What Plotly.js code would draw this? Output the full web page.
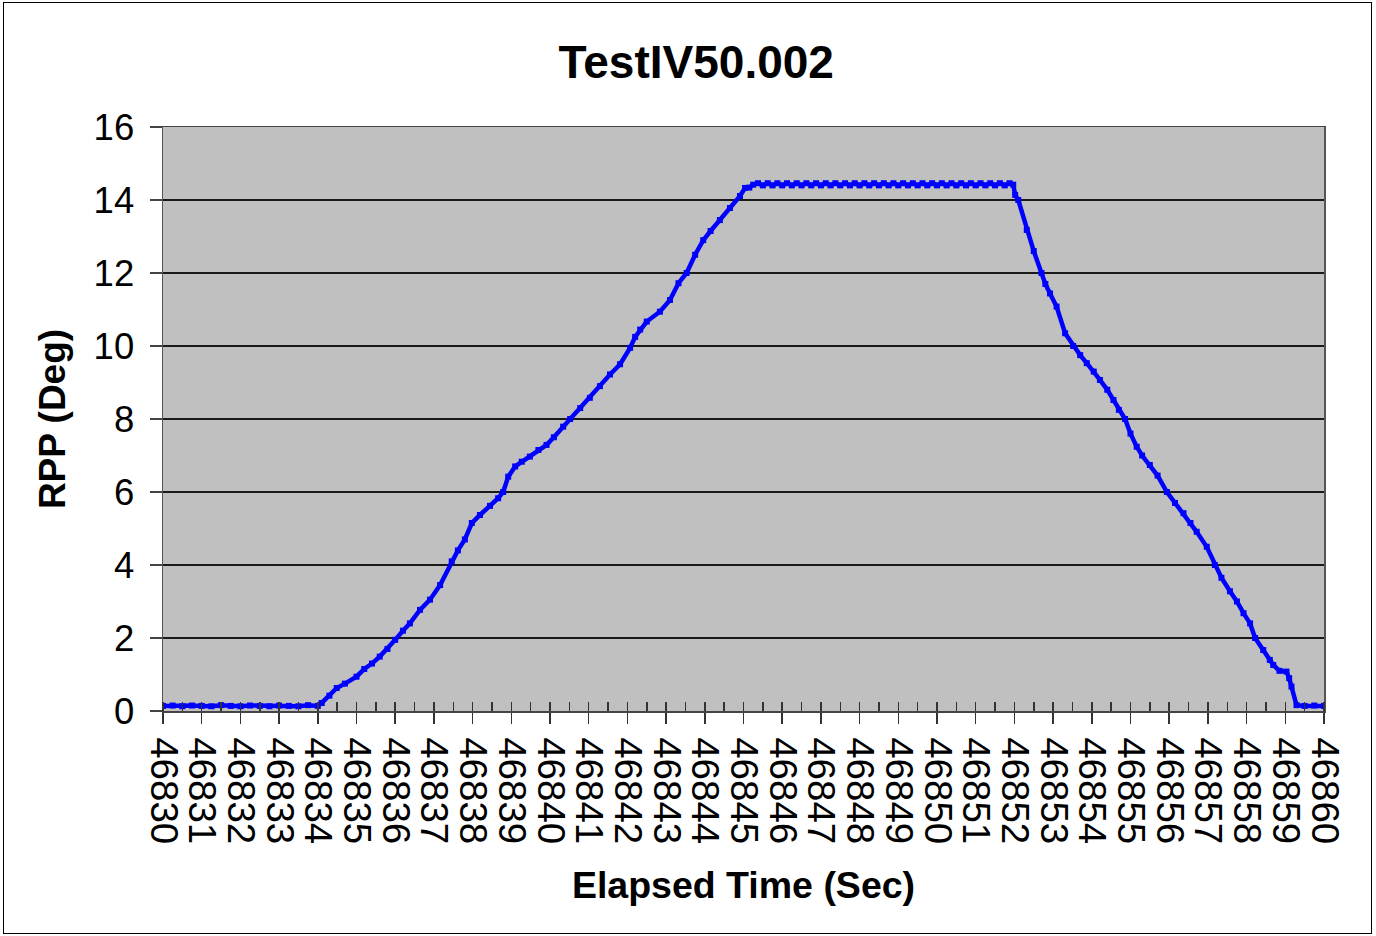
<!DOCTYPE html>
<html>
<head>
<meta charset="utf-8">
<script src="https://cdn.plot.ly/plotly-3.0.1.min.js"></script>
<style>
  html, body { margin: 0; padding: 0; background: #fff; }
  #wrap { position: relative; width: 1376px; height: 936px; }
  #chart { width: 1376px; height: 936px; }
  #frame { position: absolute; left: 3px; top: 2px; width: 1367px; height: 930px;
           border: 1.5px solid #000; pointer-events: none; }
</style>
</head>
<body>
<div id="wrap"><div id="chart"></div><div id="frame"></div></div>
<script>
const chartTitle = "TestIV50.002";
const xTitle = "Elapsed Time (Sec)";
const yTitle = "RPP (Deg)";

const timeBase = [
  46830.00, 46830.25, 46830.50, 46830.75, 46831.00, 46831.25, 46831.50, 46831.75,
  46832.00, 46832.25, 46832.50, 46832.75, 46833.00, 46833.25, 46833.50, 46833.75,
  46834.00
];
const rppBase = [
  0.14, 0.15, 0.13, 0.15, 0.14, 0.13, 0.16, 0.14,
  0.13, 0.15, 0.14, 0.13, 0.15, 0.14, 0.13, 0.16,
  0.14
];

const timeRise = [
  46834.10, 46834.30, 46834.49, 46834.70, 46835.00, 46835.20, 46835.40, 46835.60,
  46835.80, 46836.00, 46836.20, 46836.38, 46836.64, 46836.90, 46837.16, 46837.46,
  46837.62, 46837.80, 46837.98, 46838.19, 46838.45, 46838.66, 46838.79, 46838.92,
  46839.10, 46839.27, 46839.48, 46839.70, 46839.91, 46840.10, 46840.34, 46840.52,
  46840.78, 46841.03, 46841.29, 46841.55, 46841.81, 46842.07, 46842.20, 46842.33,
  46842.50, 46842.84, 46843.10, 46843.32, 46843.53, 46843.75, 46843.96, 46844.15,
  46844.39, 46844.65, 46844.91, 46845.04, 46845.15, 46845.25
];
const rppRise = [
  0.22, 0.42, 0.63, 0.75, 0.94, 1.15, 1.30, 1.49,
  1.70, 1.95, 2.20, 2.40, 2.77, 3.05, 3.45, 4.10,
  4.40, 4.70, 5.15, 5.37, 5.62, 5.83, 6.00, 6.42,
  6.70, 6.83, 6.97, 7.15, 7.29, 7.50, 7.79, 8.00,
  8.30, 8.58, 8.90, 9.22, 9.50, 9.95, 10.25, 10.45,
  10.67, 10.94, 11.26, 11.72, 12.00, 12.50, 12.90, 13.15,
  13.45, 13.78, 14.11, 14.33, 14.34, 14.42
];

const timeTop = [
  46845.375, 46845.500, 46845.625, 46845.750, 46845.875, 46846.000, 46846.125, 46846.250,
  46846.375, 46846.500, 46846.625, 46846.750, 46846.875, 46847.000, 46847.125, 46847.250,
  46847.375, 46847.500, 46847.625, 46847.750, 46847.875, 46848.000, 46848.125, 46848.250,
  46848.375, 46848.500, 46848.625, 46848.750, 46848.875, 46849.000, 46849.125, 46849.250,
  46849.375, 46849.500, 46849.625, 46849.750, 46849.875, 46850.000, 46850.125, 46850.250,
  46850.375, 46850.500, 46850.625, 46850.750, 46850.875, 46851.000, 46851.125, 46851.250,
  46851.375, 46851.500, 46851.625, 46851.750, 46851.875, 46851.970
];
const rppTop = [
  14.46, 14.40, 14.46, 14.40, 14.46, 14.40, 14.46, 14.40,
  14.46, 14.40, 14.46, 14.40, 14.46, 14.40, 14.46, 14.40,
  14.46, 14.40, 14.46, 14.40, 14.46, 14.40, 14.46, 14.40,
  14.46, 14.40, 14.46, 14.40, 14.46, 14.40, 14.46, 14.40,
  14.46, 14.40, 14.46, 14.40, 14.46, 14.40, 14.46, 14.40,
  14.46, 14.40, 14.46, 14.40, 14.46, 14.40, 14.46, 14.40,
  14.46, 14.40, 14.46, 14.40, 14.46, 14.42
];

const timeFall = [
  46852.02, 46852.10, 46852.32, 46852.50, 46852.70, 46852.80, 46852.92, 46853.09,
  46853.31, 46853.52, 46853.70, 46853.87, 46854.05, 46854.21, 46854.40, 46854.56,
  46854.70, 46854.86, 46855.00, 46855.16, 46855.30, 46855.50, 46855.70, 46855.94,
  46856.15, 46856.37, 46856.55, 46856.71, 46856.97, 46857.18, 46857.35, 46857.57,
  46857.75, 46857.92, 46858.09, 46858.22, 46858.43, 46858.60, 46858.69, 46858.85,
  46859.03, 46859.10, 46859.16, 46859.29, 46859.50, 46859.75, 46860.00
];
const rppFall = [
  14.14, 14.00, 13.18, 12.60, 12.00, 11.70, 11.44, 11.08,
  10.35, 10.00, 9.75, 9.53, 9.30, 9.07, 8.80, 8.52,
  8.25, 8.00, 7.60, 7.24, 7.00, 6.74, 6.45, 6.00,
  5.70, 5.42, 5.15, 4.91, 4.50, 4.00, 3.65, 3.28,
  3.00, 2.68, 2.40, 2.00, 1.67, 1.40, 1.26, 1.10,
  1.08, 0.90, 0.67, 0.16, 0.14, 0.15, 0.14
];

const xTickVals = [];
for (let s = 46830; s <= 46860; s++) xTickVals.push(s);

const timeAll = [].concat(timeBase, timeRise, timeTop, timeFall);
const rppAll = [].concat(rppBase, rppRise, rppTop, rppFall);

const FONT = "Liberation Sans, Arial, sans-serif";

const traces = [
  {
    x: timeAll, y: rppAll, type: "scatter", mode: "lines+markers",
    line: { color: "#0000FF", width: 4.5 },
    marker: { color: "#0000FF", size: 6, symbol: "square" },
    hoverinfo: "x+y", showlegend: false
  },
  {
    x: [46830], y: [null], xaxis: "x2", yaxis: "y", type: "scatter", mode: "markers",
    marker: { opacity: 0 }, hoverinfo: "skip", showlegend: false
  }
];

const layout = {
  width: 1376, height: 936,
  paper_bgcolor: "#ffffff",
  plot_bgcolor: "#C0C0C0",
  margin: { l: 163, r: 52, t: 127, b: 225 },
  font: { family: FONT, color: "#000" },
  title: {
    text: "<b>" + chartTitle + "</b>",
    font: { family: FONT, size: 46, color: "#000" },
    x: 0.506, xref: "container", xanchor: "center",
    y: 1 - 62 / 936, yref: "container", yanchor: "middle"
  },
  xaxis: {
    range: [46830, 46860], tickmode: "array", tickvals: xTickVals,
    tickformat: "d", tickangle: 90,
    tickfont: { family: FONT, size: 38.5, color: "#000" },
    ticklabelstandoff: 6,
    ticks: "outside", ticklen: 11, tickwidth: 1.5, tickcolor: "#333",
    minor: { dtick: 0.5, tick0: 46830, ticks: "inside", ticklen: 9, tickwidth: 1.5, tickcolor: "#333", showgrid: false },
    showgrid: false, zeroline: false,
    showline: true, linecolor: "#444", linewidth: 1.5, mirror: true,
    title: { text: "<b>" + xTitle + "</b>", font: { family: FONT, size: 37.5, color: "#000" }, standoff: 28 },
    fixedrange: true
  },
  xaxis2: {
    range: [46830, 46860], overlaying: "x", anchor: "y", side: "bottom",
    tickmode: "linear", tick0: 46830, dtick: 1,
    ticks: "inside", ticklen: 9, tickwidth: 1.5, tickcolor: "#333",
    showticklabels: false, showgrid: false, zeroline: false, showline: false,
    fixedrange: true
  },
  yaxis: {
    range: [0, 16], dtick: 2, tick0: 0,
    tickfont: { family: FONT, size: 36.5, color: "#000" },
    ticklabelstandoff: 8,
    ticks: "outside", ticklen: 12, tickwidth: 1.5, tickcolor: "#444",
    showgrid: true, gridcolor: "#1a1a1a", gridwidth: 1.2,
    zeroline: false,
    showline: true, linecolor: "#555", linewidth: 1.5, mirror: true,
    title: { text: "<b>" + yTitle + "</b>", font: { family: FONT, size: 37, color: "#000" }, standoff: 16 },
    fixedrange: true
  }
};

Plotly.newPlot("chart", traces, layout, { displayModeBar: false, staticPlot: true });
</script>
</body>
</html>
